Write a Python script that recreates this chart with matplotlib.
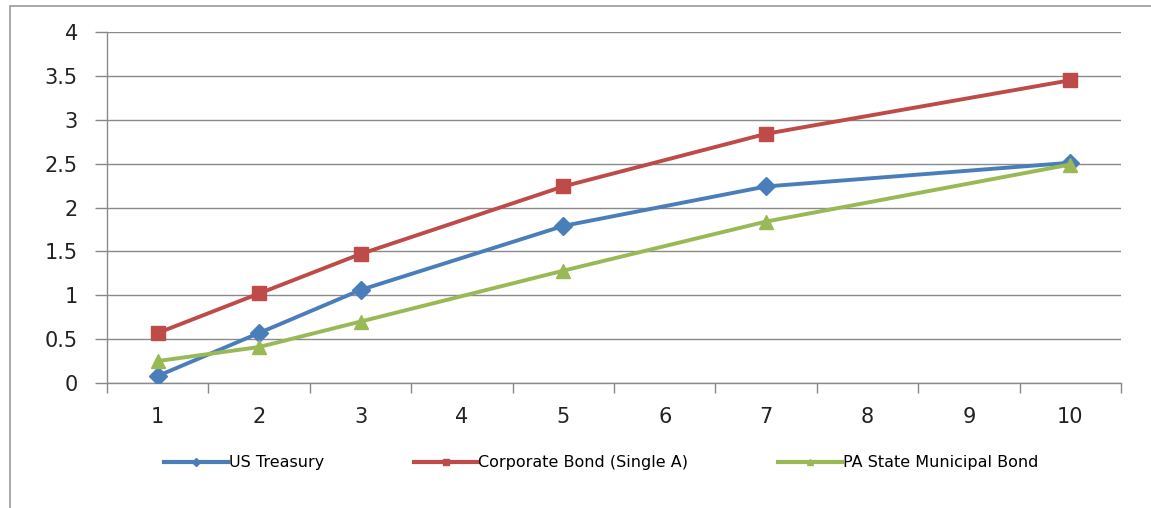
import matplotlib
matplotlib.use("Agg")
import matplotlib.pyplot as plt
import numpy as np
from matplotlib.patches import Rectangle
from matplotlib.lines import Line2D

categories = [1, 2, 3, 4, 5, 6, 7, 8, 9, 10]
maturities = [1, 2, 3, 5, 7, 10]
us_treasury = [0.08, 0.57, 1.06, 1.79, 2.24, 2.51]
corporate = [0.57, 1.02, 1.47, 2.24, 2.84, 3.45]
pa_municipal = [0.25, 0.41, 0.70, 1.28, 1.84, 2.49]
series_names = ["US Treasury", "Corporate Bond (Single A)", "PA State Municipal Bond"]
yticks = [0, 0.5, 1, 1.5, 2, 2.5, 3, 3.5, 4]

plt.rcParams['font.family'] = ['DejaVu Sans']

fig = plt.figure(figsize=(11.51, 5.08), dpi=100)
ax = fig.add_axes([107/1151, 1-383/508, (1121-107)/1151, (383-32)/508])

blue, red, green = "#4A7EBB", "#BE4B48", "#98B954"
ax.plot(maturities, us_treasury, color=blue, lw=2.8, marker='D', ms=9.5, label=series_names[0], zorder=3)
ax.plot(maturities, corporate, color=red, lw=2.8, marker='s', ms=10, label=series_names[1], zorder=3)
ax.plot(maturities, pa_municipal, color=green, lw=2.8, marker='^', ms=10, label=series_names[2], zorder=3)

ax.set_xlim(0.5, 10.5)
ax.set_ylim(0, 4)
ax.set_yticks(yticks)
ax.set_yticklabels([f"{v:g}" for v in yticks])
ax.set_xticks(categories)
ax.set_xticklabels([str(c) for c in categories])
ax.set_xticks(np.arange(0.5, 11, 1), minor=True)
ax.tick_params(axis='x', which='major', length=0, labelsize=15, pad=17, labelcolor='#222222')
ax.tick_params(axis='x', which='minor', length=7.5, width=1, color='#888888', direction='out')
ax.tick_params(axis='y', length=9, width=1, color='#888888', labelsize=15, pad=12, labelcolor='#222222')
ax.grid(axis='y', color='#8a8a8a', lw=1)
ax.set_axisbelow(True)
for s in ['top', 'right']:
    ax.spines[s].set_visible(False)
for s in ['left', 'bottom']:
    ax.spines[s].set_color('#8a8a8a')
    ax.spines[s].set_linewidth(1)

handles = [Line2D([], [], color=c, lw=3, marker=m, ms=4.5) for c, m in [(blue, 'D'), (red, 's'), (green, '^')]]
fig.legend(handles, series_names, loc='center left', bbox_to_anchor=((162-12)/1151, 1-463/508), ncol=3,
           frameon=False, columnspacing=5.6, handlelength=4.0, handletextpad=0.05,
           prop={'family': ['DejaVu Sans'], 'size': 11.5})

fig.patches.append(Rectangle((10/1151, -0.01), 1.1, 1-6/508+0.01, transform=fig.transFigure,
                             fill=False, edgecolor='#9a9a9a', lw=1.2))

fig.savefig("out.png", dpi=100)
